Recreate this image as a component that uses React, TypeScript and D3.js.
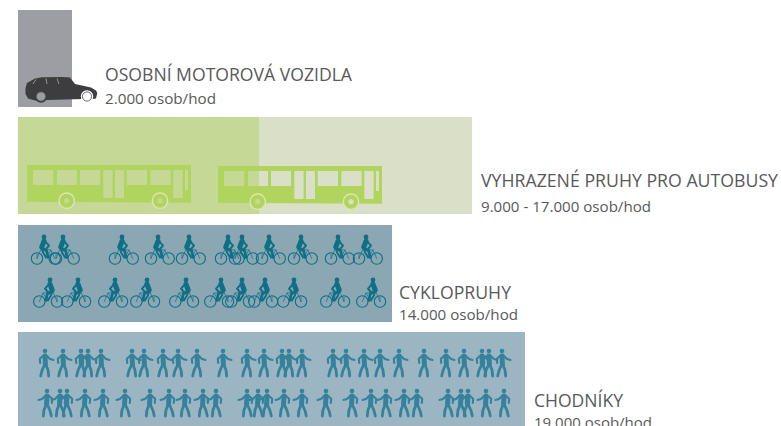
import React from "react";
import * as d3 from "d3";

const categories = ["OSOBNÍ MOTOROVÁ VOZIDLA", "VYHRAZENÉ PRUHY PRO AUTOBUSY", "CYKLOPRUHY", "CHODNÍKY"];
const capacityLabels = ["2.000 osob/hod", "9.000 - 17.000 osob/hod", "14.000 osob/hod", "19.000 osob/hod"];
const capacityMax = [2000, 17000, 14000, 19000];
const busLow = 9000;

const bikesRow1 = [44, 63, 122, 158, 189, 228, 242, 269, 301, 338, 366];
const bikesRow2 = [50, 78, 115, 147, 186, 221, 242, 265, 294, 337, 373];
const walkersRow1 = [45, 63, 81, 88, 101, 132, 144, 163, 178, 197, 223, 247, 264, 282, 289, 302, 333, 346, 364, 380, 399, 424, 446, 464, 482, 489, 502];
const walkersRow2 = [47, 60, 67, 85, 103, 125, 150, 169, 185, 203, 216, 247, 258, 267, 284, 302, 326, 352, 371, 386, 404, 417, 448, 461, 468, 486, 504];
const busPositions = [0, 191];

const W = 781, H = 426;
const x = d3.scaleLinear().domain([0, 19000]).rangeRound([1, 507]);
const X0 = 18;
const rowTop = [10, 117, 225, 332];
const BAR_H = 97;
const text = "#58595b";

const labelPos = [
  { x: 105, t: 81, s: 104, tw: 247, sw: 111 },
  { x: 481, t: 187, s: 212, tw: 297, sw: 170 },
  { x: 399, t: 299, s: 320, tw: 112, sw: 119 },
  { x: 534, t: 407, s: 428, tw: 89, sw: 118 },
];

const busWindows: [number, number, number, number][] = [
  [6, 5, 20.3, 15], [30, 5, 20, 15], [53, 5, 20, 15], [76.3, 5, 9.3, 28], [88, 5, 9, 28],
  [99.7, 5, 20.3, 15], [123.3, 5, 20.3, 15], [146.3, 5, 9.3, 28], [158, 5, 3, 20],
];

function rectPath([a, b, w, h]: [number, number, number, number]) {
  return `M${a},${b}h${w}v${h}h${-w}Z`;
}

function Bus({ dx, dy, hub }: { dx: number; dy: number; hub: string[] }) {
  const d = "M0,0H164V37.7L0,36.7Z" + busWindows.map(rectPath).join("");
  return (
    <g transform={`translate(${27 + dx},${165 + dy})`}>
      <path d={d} fill="#b0d45e" fillRule="evenodd" />
      {[39.7, 133].map((cx, i) => (
        <g key={i}>
          <circle cx={cx} cy={35.7} r={8.4} fill="#dbe6b4" />
          <circle cx={cx} cy={35.7} r={7} fill="#b0d45e" />
          <circle cx={cx} cy={35.7} r={2.6} fill={hub[i]} />
        </g>
      ))}
    </g>
  );
}

function Bike({ hx, hy, flip }: { hx: number; hy: number; flip: boolean }) {
  const c = "#0e6f85";
  return (
    <g transform={`translate(${hx},${hy})${flip ? " scale(-1,1)" : ""}`} fill="none" stroke={c} strokeLinecap="round" strokeLinejoin="round">
      <circle cx={-7} cy={21.5} r={5.7} strokeWidth={1.1} />
      <circle cx={10.7} cy={21.5} r={5.7} strokeWidth={1.1} />
      <path d="M-7,21.5L-3,12L7,13L10.7,21.5M-3,12L2,21.5L7,13M-7,21.5V17" strokeWidth={0.7} />
      <circle cx={0} cy={0} r={2.4} fill={c} stroke="none" />
      <path d="M0,4.2L-2.2,10" strokeWidth={5} />
      <path d="M-2.2,11L2.8,14L4,20.5" strokeWidth={2.7} />
      <path d="M-1.5,12L-1,15.5L2,20" strokeWidth={1.8} />
      <path d="M1,4.2L5,8.6L2,12" strokeWidth={2} />
    </g>
  );
}

function Walker({ hx, hy, flip }: { hx: number; hy: number; flip: boolean }) {
  const c = "#36829c";
  return (
    <g transform={`translate(${hx},${hy})${flip ? " scale(-1,1)" : ""}`} fill="none" stroke={c} strokeLinecap="round" strokeLinejoin="round">
      <circle cx={0} cy={0} r={2.3} fill={c} stroke="none" />
      <path d="M0,5L0.4,13" strokeWidth={5} />
      <path d="M-0.5,14L-3,19.5L-4.3,25" strokeWidth={2.8} />
      <path d="M1,14L3,19L3.7,25" strokeWidth={2.8} />
      <path d="M-1.5,4.5L-5.2,7.8L-4.8,12" strokeWidth={2.1} />
      <path d="M1.5,4.5L5,8L8.5,9" strokeWidth={2.1} />
    </g>
  );
}

function Car() {
  const c = "#3d3d3f";
  const body = "M25.5,88L27,83L35,78.5L42,77.3L63,77L70,77.5L75,84L91,87.5L96,90.5L97.3,93L96,98.5L92,99L83,99L47,100L35,100.5L28,98.5L25.5,94Z";
  return (
    <g>
      <path d={body} fill={c} />
      <path d="M33,84L36,79.5M46,78.5L47,84M57,78.5L59,84" fill="none" stroke="#a8a8ab" strokeWidth={0.8} />
      <circle cx={41} cy={96.5} r={6.2} fill={c} />
      <circle cx={41} cy={96.5} r={4.6} fill="#9d9ea3" stroke="#58595b" strokeWidth={0.9} />
      <circle cx={87} cy={96.5} r={6.2} fill="#fff" />
      <circle cx={87} cy={96.5} r={4.6} fill="#fff" stroke="#58595b" strokeWidth={0.9} />
    </g>
  );
}

export default function App() {
  const barW = capacityMax.map((v) => x(v));
  return (
    <svg width={W} height={H} viewBox={`0 0 ${W} ${H}`} style={{ position: "absolute", left: 0, top: 0, display: "block" }} fontFamily="'Open Sans', sans-serif">
      <rect x={X0} y={rowTop[0]} width={barW[0]} height={BAR_H} fill="#9d9ea3" />
      <rect x={X0} y={rowTop[1]} width={barW[1]} height={BAR_H} fill="#dadfc8" />
      <rect x={X0} y={rowTop[1]} width={x(busLow)} height={BAR_H} fill="#c6d896" />
      <rect x={X0} y={rowTop[2]} width={barW[2]} height={BAR_H} fill="#8aa7b3" />
      <rect x={X0} y={rowTop[3]} width={barW[3]} height={BAR_H} fill="#9bb5c2" />

      <Car />
      {busPositions.map((dx, i) => (
        <Bus key={i} dx={dx} dy={i} hub={i === 0 ? ["#c6d896", "#c6d896"] : ["#c6d896", "#dadfc8"]} />
      ))}
      {bikesRow1.map((h, i) => <Bike key={`a${i}`} hx={h} hy={237} flip={false} />)}
      {bikesRow2.map((h, i) => <Bike key={`b${i}`} hx={h} hy={280} flip={true} />)}
      {walkersRow1.map((h, i) => <Walker key={`c${i}`} hx={h} hy={351} flip={false} />)}
      {walkersRow2.map((h, i) => <Walker key={`d${i}`} hx={h} hy={391} flip={true} />)}

      {categories.map((c, i) => (
        <g key={c} fill={text}>
          <text x={labelPos[i].x} y={labelPos[i].t} fontSize={17.5} textLength={labelPos[i].tw} lengthAdjust="spacingAndGlyphs">{c}</text>
          <text x={labelPos[i].x} y={labelPos[i].s} fontSize={14.5} textLength={labelPos[i].sw} lengthAdjust="spacingAndGlyphs">{capacityLabels[i]}</text>
        </g>
      ))}
    </svg>
  );
}
